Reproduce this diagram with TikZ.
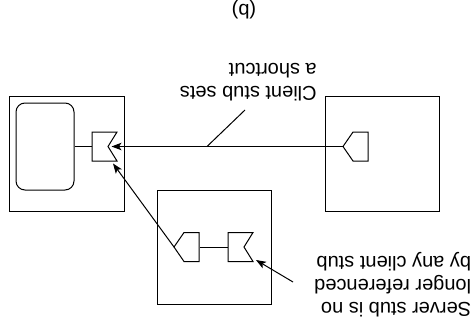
\documentclass[tikz,border=0pt]{standalone}
\usepackage{fontspec}
\setmainfont{Liberation Sans}
\usetikzlibrary{arrows.meta}

\begin{document}
\begin{tikzpicture}[x=1pt,y=-1pt,line join=miter,
  box/.style={draw,line width=1pt,inner sep=0pt},
  stub/.style={draw,line width=1pt,fill=white},
  link/.style={line width=1pt},
  ref/.style={line width=1pt,-{Stealth[length=10pt,width=7.5pt,inset=2.5pt]}},
  note/.style={font=\fontsize{20}{23}\selectfont,align=left,rotate=180,inner sep=0pt}]

\useasboundingbox (0,0) rectangle (473,327);

\node[note] (tag) at (244,10) {(b)};

% Three address spaces; the whole figure is printed upside down.
\node[box,minimum width=115pt,minimum height=115pt] (home) at (66.5,153.5) {};
\node[box,minimum width=114pt,minimum height=115pt] (caller) at (382,153.5) {};
\node[box,minimum width=114pt,minimum height=114pt] (relay) at (214,247) {};
\node[box,rounded corners=9pt,minimum width=58pt,minimum height=87pt] (obj) at (45,146.5) {};

% Notched (server) stubs.
\foreach \x/\y/\nm in {92/132/hsrv,228/232.5/rsrv}
{
  \draw[stub] (\x,\y) -- ++(25,0) -- ++(-9,14.5) -- ++(9,14.5) -- ++(-25,0) -- cycle;
  \coordinate (\nm) at (\x,\y+14.5);
  \coordinate (\nm-in) at (\x+16,\y+14.5);
}
% Pointed (client) stubs.
\foreach \x/\y/\nm in {343/146.5/ccli,174/247/rcli}
{
  \draw[stub] (\x,\y) -- ++(10,-14.5) -- ++(15,0) -- ++(0,29) -- ++(-15,0) -- cycle;
  \coordinate (\nm) at (\x,\y);
  \coordinate (\nm-back) at (\x+26,\y);
}

\draw[link] (obj.east) -- (hsrv);
\draw[link] (rcli-back) -- (rsrv);

% References between the stubs.
\coordinate (hsrv-low) at (113,163.5);
\coordinate (rsrv-low) at (256,260);
\draw[ref,shorten >=3.5pt] (ccli) -- (hsrv-in);
\draw[ref] (rcli) -- (hsrv-low);

% Remarks.
\node[note] (cnote) at (248.3,82.3) {Client stub sets\\a shortcut};
\node[note] (snote) at (392.7,285) {Server stub is no\\longer referenced\\by any client stub};
\coordinate (cnote-foot) at (245,110);
\coordinate (shortcut) at (207,146.5);
\coordinate (snote-foot) at (293,282);
\draw[link] (cnote-foot) -- (shortcut);
\draw[ref] (snote-foot) -- (rsrv-low);
\end{tikzpicture}
\end{document}
